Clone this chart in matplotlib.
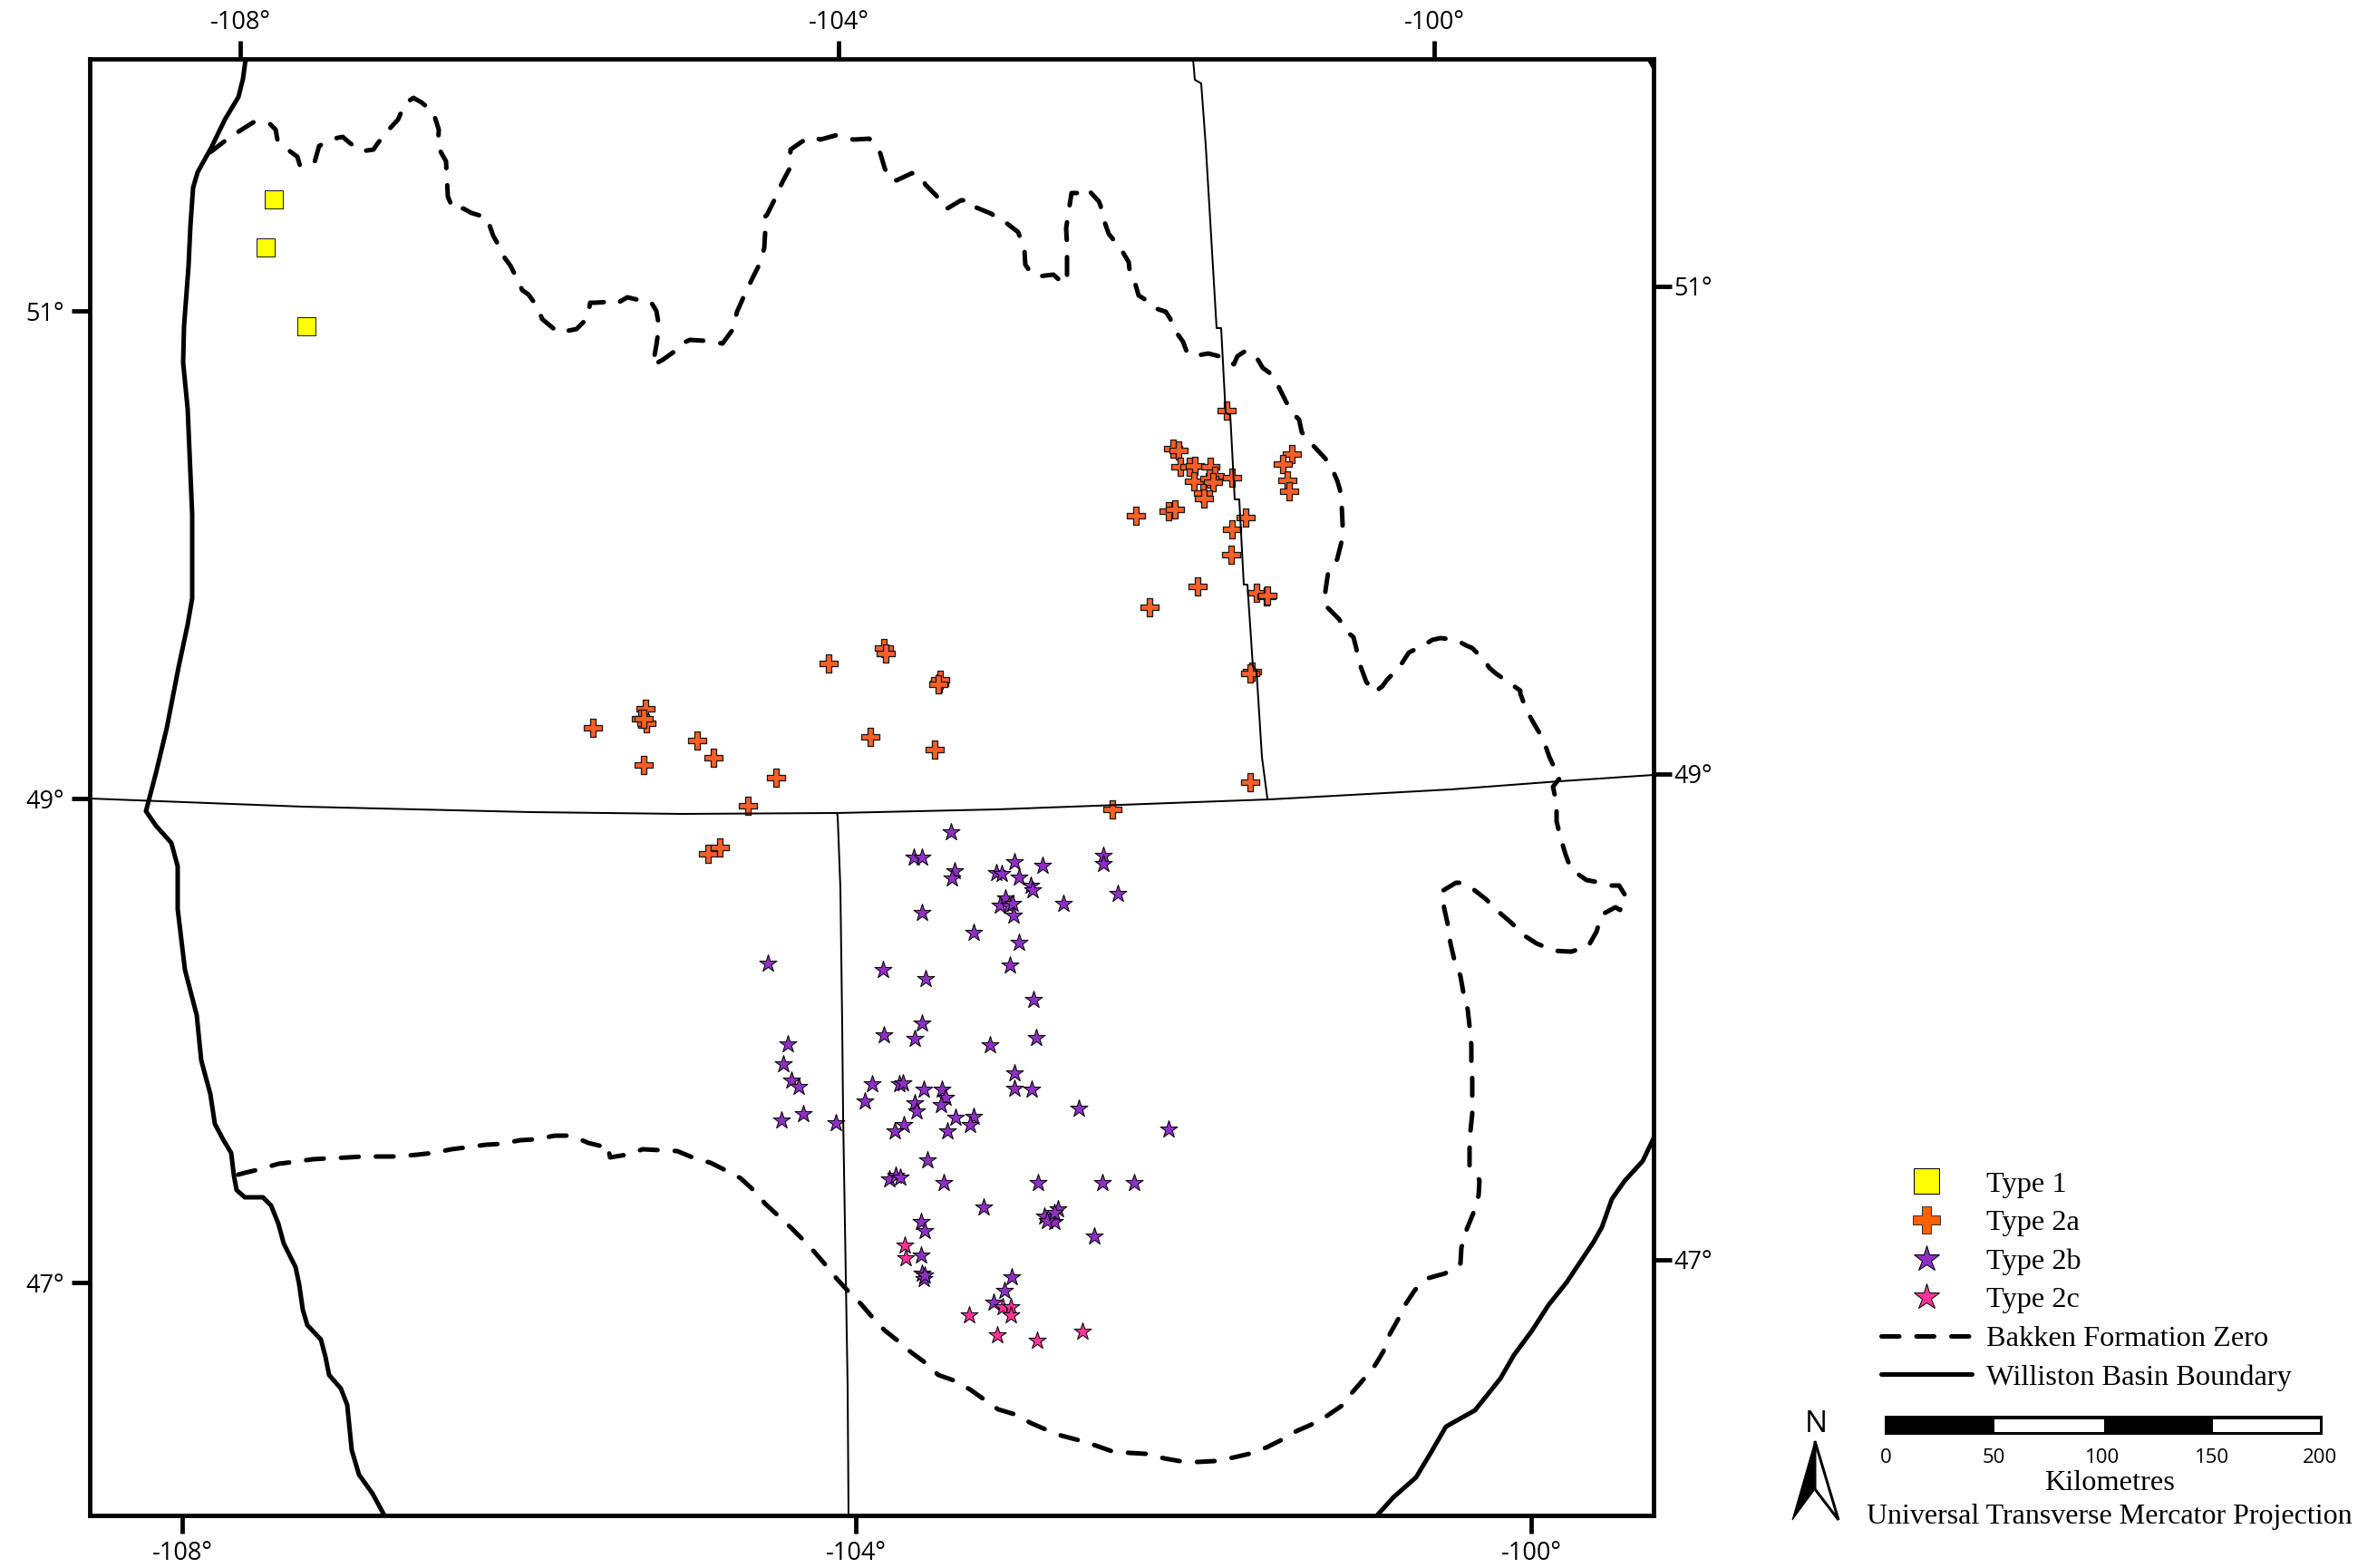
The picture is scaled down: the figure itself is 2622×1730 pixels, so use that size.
import matplotlib
matplotlib.use("Agg")
import matplotlib.pyplot as plt
from matplotlib.lines import Line2D
from matplotlib.patches import Polygon, Rectangle
from matplotlib.path import Path

# map coordinates are projected map units, with y increasing southwards
type1_x = [302, 293, 338]
type1_y = [220, 273, 360]
type2a_x = [1353, 1294, 1300, 1302, 1312, 1318, 1335, 1340, 1317, 1334, 1338, 1359, 1327, 1328, 1253, 1289, 1296,
            1374, 1359, 1358, 1321, 1268, 1386, 1397, 1398, 1425, 1415, 1420, 1422,
            654, 712, 707, 713, 710, 710, 769, 787, 856, 825, 781, 794, 914, 975, 977, 1036, 1037, 1035, 960, 1031,
            1381, 1379, 1379, 1227]
type2a_y = [453, 495, 497, 515, 515, 514, 515, 525, 531, 528, 532, 527, 544, 550, 569, 564, 562,
            571, 584, 612, 647, 670, 654, 658, 657, 501, 512, 530, 542,
            803, 782, 793, 798, 793, 844, 817, 836, 858, 889, 942, 935, 732, 715, 721, 754, 750, 755, 813, 827,
            741, 743, 863, 893]
type2b_x = [1049, 1008, 1017, 1053, 1050, 1099, 1105, 1119, 1150, 1124, 1137, 1139, 1217, 1217, 1233, 1173, 1109,
            1103, 1113, 1117, 1118, 1017, 1074, 1124, 1114, 847, 974, 1021, 1140, 1017, 975, 1009, 1092, 1143,
            869, 864, 873, 881, 886, 862, 922, 962, 954, 992, 996, 1019, 1039, 1043, 1038, 1009, 1011, 1119, 1119,
            1138, 1190, 1289, 1054, 1074, 1070, 1045, 997, 987, 1023, 981, 988, 993, 1041, 1145, 1216, 1251,
            1085, 1152, 1167, 1163, 1155, 1163, 1207, 1016, 1020, 1016, 1017, 1019, 1020, 1116, 1108, 1096]
type2b_y = [918, 946, 946, 961, 969, 963, 964, 951, 955, 968, 977, 982, 944, 953, 986, 997, 991,
            999, 999, 997, 1010, 1007, 1029, 1040, 1065, 1063, 1070, 1080, 1103, 1129, 1142, 1146, 1153, 1145,
            1152, 1174, 1192, 1199, 1229, 1236, 1239, 1196, 1215, 1196, 1195, 1202, 1202, 1211, 1219, 1217, 1226, 1184, 1201,
            1202, 1223, 1246, 1233, 1232, 1241, 1248, 1241, 1248, 1280, 1301, 1297, 1299, 1305, 1305, 1305, 1305,
            1332, 1342, 1334, 1348, 1347, 1338, 1364, 1348, 1358, 1385, 1405, 1411, 1407, 1409, 1424, 1437]
type2c_x = [998, 999, 1069, 1106, 1115, 1115, 1100, 1144, 1194]
type2c_y = [1374, 1388, 1451, 1442, 1442, 1451, 1473, 1479, 1469]

zero_x = [232, 250, 265, 281, 298, 304, 306, 320, 328, 331, 347, 352, 368, 378, 385, 398, 412, 416, 427, 439, 447, 456,
          465, 478, 484, 483, 492, 493, 494, 500, 511, 520, 537, 544, 553, 557, 563, 571, 576, 583, 593, 598, 604, 616,
          636, 648, 651, 656, 673, 680, 692, 709, 718, 724, 727, 724, 720, 731, 745, 750, 761, 778, 797, 808, 813, 820,
          829, 837, 843, 844, 843, 846, 854, 863, 871, 872, 885, 896, 905, 923, 941, 959, 965, 971, 976, 983, 989, 1006,
          1016, 1021, 1033, 1040, 1045, 1060, 1069, 1073, 1077, 1094, 1102, 1110, 1123, 1130, 1131, 1138, 1145, 1162,
          1173, 1177, 1177, 1177, 1176, 1179, 1182, 1192, 1199, 1212, 1214, 1217, 1223, 1236, 1245, 1246, 1251, 1256,
          1264, 1271, 1286, 1291, 1295, 1305, 1309, 1316, 1333, 1352, 1361, 1365, 1374, 1387, 1393, 1400, 1410, 1419,
          1429, 1433, 1436, 1448, 1462, 1471, 1475, 1478, 1480, 1481, 1480, 1475, 1465, 1462, 1462, 1477, 1487, 1493,
          1496, 1500, 1507, 1516, 1525, 1530, 1543, 1554, 1570, 1580, 1589, 1606, 1617, 1624, 1637, 1643, 1650, 1663,
          1677, 1677, 1683, 1693, 1702, 1709, 1716, 1721, 1713, 1717, 1717, 1721, 1727, 1733, 1750, 1766, 1777, 1786,
          1794, 1787, 1782, 1767, 1761, 1752, 1733, 1715, 1695, 1681, 1667, 1653, 1639, 1625, 1613, 1606, 1591, 1593,
          1597, 1600, 1604, 1611, 1614, 1619, 1621, 1623, 1623, 1624, 1624, 1624, 1622, 1621, 1621, 1632, 1631, 1625,
          1618, 1612, 1611, 1594, 1576, 1561, 1551, 1542, 1533, 1526, 1517, 1504, 1491, 1480, 1464, 1446, 1430, 1413,
          1397, 1378, 1361, 1340, 1321, 1301, 1284, 1264, 1246, 1226, 1209, 1190, 1171, 1153, 1137, 1118, 1101, 1084,
          1070, 1052, 1035, 1020, 1005, 990, 976, 962, 950, 936, 924, 911, 899, 885, 873, 857, 844, 830, 817, 800, 784,
          764, 747, 728, 709, 691, 673, 670, 665, 649, 630, 612, 591, 574, 553, 536, 514, 498, 478, 460, 438, 422, 400,
          384, 362, 345, 324, 307, 287, 270, 259]
zero_y = [168, 154, 144, 134, 137, 143, 154, 167, 173, 183, 179, 161, 153, 151, 157, 167, 165, 159, 145, 132, 114, 108,
          113, 124, 143, 162, 178, 197, 217, 231, 230, 235, 240, 260, 276, 285, 293, 309, 320, 325, 339, 352, 357, 367,
          363, 351, 334, 334, 333, 335, 328, 332, 333, 343, 360, 381, 403, 397, 387, 380, 375, 376, 379, 364, 344, 328,
          309, 293, 274, 257, 240, 237, 221, 201, 186, 165, 156, 151, 154, 149, 154, 153, 162, 169, 186, 199, 199, 191,
          195, 204, 216, 228, 230, 221, 221, 228, 229, 236, 243, 246, 256, 275, 292, 302, 305, 303,
          313, 308, 292, 270, 252, 232, 213, 213, 208, 222, 227, 241, 258, 274, 289, 298, 309, 326,
          331, 339, 344, 352, 363, 377, 388, 393, 390, 395, 402, 393, 387, 396, 406, 411, 426, 444,
          459, 463, 477, 491, 506, 521, 530, 540, 558, 579, 597, 617, 632, 652, 668, 683, 698, 703,
          715, 733, 752, 764, 757, 750, 737, 720, 712, 706, 704, 706, 712, 715, 728, 737, 743, 752,
          762, 765, 782, 800, 815, 835, 850, 858, 868, 886, 906, 923, 943, 959, 971, 974, 977, 977,
          990, 1004, 1001, 1009, 1028, 1044, 1050, 1049, 1041, 1032, 1018, 1006, 992, 981, 974, 974, 983, 1002,
          1020, 1041, 1058, 1077, 1094, 1114, 1132, 1153, 1170, 1191, 1209, 1229, 1248, 1268, 1288, 1302, 1319, 1339,
          1356, 1377, 1394, 1405, 1410, 1423, 1438, 1456, 1472, 1491, 1506, 1522, 1537, 1551, 1562, 1572, 1579, 1589,
          1597, 1604, 1608, 1612, 1613, 1612, 1609, 1604, 1603, 1601, 1595, 1589, 1584, 1577, 1570, 1560, 1555, 1543,
          1533, 1523, 1517, 1503, 1492, 1479, 1468, 1453, 1439, 1425, 1412, 1396, 1382, 1367, 1355, 1340, 1328, 1312, 1300, 1291, 1283,
          1277, 1270, 1269, 1268, 1274, 1277, 1263, 1265, 1261, 1253, 1253, 1257, 1258, 1262, 1263, 1266, 1268, 1272, 1274, 1276, 1276, 1276,
          1277, 1278, 1279, 1282, 1284, 1290, 1294, 1297]

basin_west_x = [271, 268, 263, 248, 233, 218, 213, 210, 208, 203, 202, 207, 212, 212, 207, 197, 184, 172, 161, 172, 189, 196, 196,
                204, 217, 222, 232, 237, 246, 255, 258, 261, 270, 290, 299, 307, 313, 326, 330, 334, 339, 354, 359, 363,
                376, 383, 388, 396, 411, 424]
basin_west_y = [65, 87, 107, 132, 163, 190, 207, 250, 293, 360, 400, 451, 568, 660, 689, 736, 803, 853, 895, 911, 930, 956, 1003,
                1070, 1120, 1170, 1207, 1240, 1257, 1272, 1297, 1313, 1321, 1321, 1330, 1350, 1372, 1398, 1417, 1445,
                1462, 1478, 1497, 1517, 1532, 1550, 1600, 1627, 1648, 1672]
basin_east_x = [1519, 1537, 1562, 1577, 1595, 1627, 1655, 1670, 1690, 1708, 1728, 1758, 1767, 1778, 1792, 1812, 1824]
basin_east_y = [1672, 1652, 1630, 1605, 1574, 1556, 1521, 1495, 1468, 1440, 1415, 1370, 1354, 1323, 1303, 1281, 1256]
basin_ne_x = [1819, 1824]
basin_ne_y = [65, 74]

border49_x = [99, 334, 585, 752, 923, 1100, 1400, 1600, 1720, 1824]
border49_y = [881, 890, 896, 898, 897, 893, 882, 871, 862, 855]
border_nd_x = [923, 924, 927, 929, 930, 935, 936]
border_nd_y = [897, 900, 980, 1130, 1230, 1530, 1672]
border_mb_x = [1316, 1318, 1325, 1330, 1342, 1347, 1352, 1357, 1362, 1367, 1372, 1376, 1382, 1386, 1392, 1398]
border_mb_y = [65, 88, 92, 160, 362, 362, 456, 457, 551, 551, 645, 645, 735, 740, 835, 881]

lon_labels = ['-108°', '-104°', '-100°']
lon_ticks_top = [265, 925, 1582]
lon_ticks_bottom = [201, 944, 1689]
lat_labels = ['51°', '49°', '47°']
lat_ticks_left = [343, 881, 1415]
lat_ticks_right = [316, 854, 1390]

legend_labels = ['Type 1', 'Type 2a', 'Type 2b', 'Type 2c', 'Bakken Formation Zero', 'Williston Basin Boundary']
scale_km = [0, 50, 100, 150, 200]
scale_label_px = [2080, 2199, 2319, 2440, 2559]

W, H = 2622, 1730
DPI = 100
px = 72 / DPI
SERIF = 'Liberation Serif'
SANS = 'Open Sans'

fig = plt.figure(figsize=(W / DPI, H / DPI), dpi=DPI, facecolor='white')
L, R, T, B = 99, 1824, 65, 1672
ax = fig.add_axes([L / W, 1 - B / H, (R - L) / W, (B - T) / H])
ax.set_xlim(L, R)
ax.set_ylim(B, T)
FRAME = 4.8 * px
for s in ax.spines.values():
    s.set_linewidth(FRAME)
    s.set_zorder(10)

COL_Y, COL_O, COL_P, COL_M = '#FFFF00', '#FF5F27', '#8F2FC4', '#FF3399'
EDGE = '#1a1a1a'
a = 0.135
PLUS = Path([(-a, -0.5), (a, -0.5), (a, -a), (0.5, -a), (0.5, a), (a, a), (a, 0.5), (-a, 0.5),
             (-a, a), (-0.5, a), (-0.5, -a), (-a, -a), (-a, -0.5)], closed=True)
ax.scatter(type1_x, type1_y, marker='s', s=(19.5 * px) ** 2, c=COL_Y, edgecolors=EDGE, linewidths=1.0 * px, zorder=3)
ax.scatter(type2a_x, type2a_y, marker=PLUS, s=(20 * px) ** 2, c=COL_O, edgecolors=EDGE, linewidths=1.3 * px, zorder=3)
ax.scatter(type2b_x, type2b_y, marker='*', s=(20 * px) ** 2, c=COL_P, edgecolors='black', linewidths=1.0 * px, zorder=3)
ax.scatter(type2c_x, type2c_y, marker='*', s=(20 * px) ** 2, c=COL_M, edgecolors='black', linewidths=1.0 * px, zorder=3)

for xs, ys in [(border49_x, border49_y), (border_nd_x, border_nd_y), (border_mb_x, border_mb_y)]:
    ax.plot(xs, ys, color='black', lw=2.0 * px, zorder=3.5)
for xs, ys in [(basin_west_x, basin_west_y), (basin_east_x, basin_east_y), (basin_ne_x, basin_ne_y)]:
    ax.plot(xs, ys, color='black', lw=5.0 * px, solid_capstyle='round', solid_joinstyle='round', zorder=2)
DASH = (3.9, 3.8)
ax.plot(zero_x, zero_y, color='black', lw=5.0 * px, dashes=DASH, dash_capstyle='round', dash_joinstyle='round', zorder=2)

# graticule ticks on all four sides
TICK = 20 * px
TFS = 19.5
ax.set_xticks(lon_ticks_bottom, lon_labels)
ax.set_yticks(lat_ticks_left, lat_labels)
ax.tick_params(axis='both', length=TICK, width=FRAME, labelsize=TFS, pad=6)
for t in ax.get_xticklabels() + ax.get_yticklabels():
    t.set_fontfamily(SANS)
top = ax.secondary_xaxis('top')
top.set_xticks(lon_ticks_top, lon_labels)
top.tick_params(length=TICK, width=FRAME, labelsize=TFS, pad=4)
right = ax.secondary_yaxis('right')
right.set_yticks(lat_ticks_right, lat_labels)
right.tick_params(length=TICK, width=FRAME, labelsize=TFS, pad=2)
for sec in (top, right):
    for s in sec.spines.values():
        s.set_visible(False)
for t in top.get_xticklabels() + right.get_yticklabels():
    t.set_fontfamily(SANS)

# legend
handles = [
    Line2D([], [], ls='none', marker='s', ms=28 * px, mfc=COL_Y, mec='black', mew=1.0 * px),
    Line2D([], [], ls='none', marker='P', ms=30 * px, mfc='#FF6000', mec='#333333', mew=1.0 * px),
    Line2D([], [], ls='none', marker='*', ms=30 * px, mfc=COL_P, mec='black', mew=1.0 * px),
    Line2D([], [], ls='none', marker='*', ms=30 * px, mfc=COL_M, mec='black', mew=1.0 * px),
    Line2D([], [], color='black', lw=5.0 * px, dashes=DASH, dash_capstyle='round'),
    Line2D([], [], color='black', lw=5.0 * px, solid_capstyle='round'),
]
FS = 23.3
fig.legend(handles, legend_labels, loc='upper left', bbox_to_anchor=(2075 / W, 1 - 1292 / H),
           frameon=False, prop={'family': SERIF, 'size': FS}, borderpad=0, borderaxespad=0,
           handlelength=100 * px / FS, handletextpad=16 * px / FS, labelspacing=0.40, numpoints=1)

# scale bar and north arrow on a pixel overlay
ov = fig.add_axes([0, 0, 1, 1], facecolor='none')
ov.set_xlim(0, W)
ov.set_ylim(H, 0)
ov.axis('off')
bar_x0, bar_x1 = 2079, 2562
k = (bar_x1 - bar_x0) / scale_km[-1]
ov.add_patch(Rectangle((bar_x0, 1562), bar_x1 - bar_x0, 21, fc='black', ec='none'))
for a0, b0 in zip(scale_km[1::2], scale_km[2::2]):
    ov.add_patch(Rectangle((bar_x0 + a0 * k, 1566), (b0 - a0) * k - 3 if b0 == scale_km[-1] else (b0 - a0) * k, 14, fc='white', ec='none'))
for km, xp in zip(scale_km, scale_label_px):
    ov.text(xp, 1608, str(km), ha='center', va='center', family=SANS, fontsize=16)
ov.text(2327, 1637, 'Kilometres', ha='center', va='center', family=SERIF, fontsize=FS)
ov.text(2327, 1673, 'Universal Transverse Mercator Projection', ha='center', va='center', family=SERIF, fontsize=23)
ov.text(2003, 1571, 'N', ha='center', va='center', family=SANS, fontsize=24)
ov.add_patch(Polygon([(2002, 1590), (2028, 1677), (2002, 1643)], closed=True, fc='white', ec='black', lw=3 * px, joinstyle='miter'))
ov.add_patch(Polygon([(2002, 1590), (1977, 1677), (2002, 1643)], closed=True, fc='black', ec='black', lw=1 * px, joinstyle='miter'))

fig.savefig('out.png', dpi=DPI, facecolor='white')
